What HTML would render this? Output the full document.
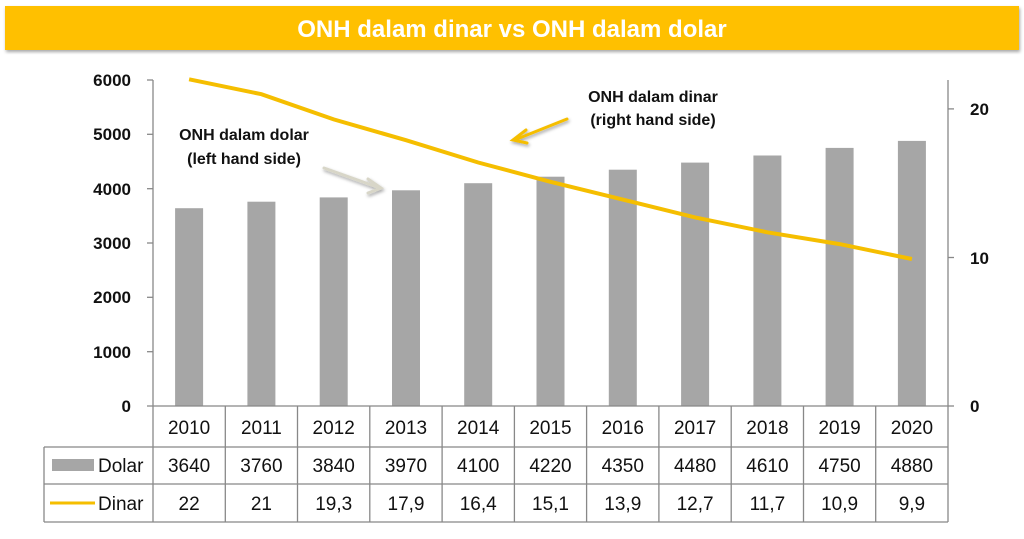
<!DOCTYPE html>
<html><head><meta charset="utf-8"><style>
body{margin:0;background:#fff;width:1024px;height:534px;overflow:hidden}
text{font-family:"Liberation Sans",sans-serif}
</style></head><body>
<svg width="1024" height="534" xmlns="http://www.w3.org/2000/svg">
<defs><filter id="sh"><feDropShadow dx="1" dy="2" stdDeviation="1.5" flood-opacity="0.35"/></filter></defs>
<rect x="5" y="6" width="1014" height="44" fill="#FFC000" filter="url(#sh)"/>
<text x="512" y="37" text-anchor="middle" fill="#fff" font-size="24" font-weight="bold">ONH dalam dinar vs ONH dalam dolar</text>
<g fill="#A6A6A6">
<rect x="175.1" y="208.2" width="28" height="197.8"/>
<rect x="247.4" y="201.7" width="28" height="204.3"/>
<rect x="319.7" y="197.4" width="28" height="208.6"/>
<rect x="392" y="190.3" width="28" height="215.7"/>
<rect x="464.2" y="183.2" width="28" height="222.8"/>
<rect x="536.5" y="176.7" width="28" height="229.3"/>
<rect x="608.8" y="169.7" width="28" height="236.3"/>
<rect x="681.1" y="162.6" width="28" height="243.4"/>
<rect x="753.4" y="155.5" width="28" height="250.5"/>
<rect x="825.6" y="147.9" width="28" height="258.1"/>
<rect x="897.9" y="140.9" width="28" height="265.1"/>
</g>
<polyline fill="none" stroke="#F5BE00" stroke-width="4" points="189.1,79.3 261.4,94.2 333.7,119.4 406,140.2 478.2,162.5 550.5,181.8 622.8,199.6 695.1,217.4 767.4,232.3 839.6,244.1 911.9,259"/>
<g stroke="#888" stroke-width="1.3" fill="none">
<line x1="153" y1="80" x2="153" y2="522"/>
<line x1="147" y1="80" x2="153" y2="80"/><line x1="147" y1="134.3" x2="153" y2="134.3"/><line x1="147" y1="188.7" x2="153" y2="188.7"/><line x1="147" y1="243" x2="153" y2="243"/><line x1="147" y1="297.3" x2="153" y2="297.3"/><line x1="147" y1="351.7" x2="153" y2="351.7"/>
<line x1="147" y1="406" x2="948" y2="406"/>
<line x1="948" y1="80" x2="948" y2="522"/>
<line x1="948" y1="108.9" x2="954" y2="108.9"/><line x1="948" y1="257.5" x2="954" y2="257.5"/><line x1="948" y1="406" x2="954" y2="406"/>
<line x1="44" y1="447" x2="948" y2="447"/>
<line x1="44" y1="484" x2="948" y2="484"/>
<line x1="44" y1="522" x2="948" y2="522"/>
<line x1="44" y1="447" x2="44" y2="522"/>
<line x1="225.3" y1="406" x2="225.3" y2="522"/><line x1="297.5" y1="406" x2="297.5" y2="522"/><line x1="369.8" y1="406" x2="369.8" y2="522"/><line x1="442.1" y1="406" x2="442.1" y2="522"/><line x1="514.4" y1="406" x2="514.4" y2="522"/><line x1="586.6" y1="406" x2="586.6" y2="522"/><line x1="658.9" y1="406" x2="658.9" y2="522"/><line x1="731.2" y1="406" x2="731.2" y2="522"/><line x1="803.5" y1="406" x2="803.5" y2="522"/><line x1="875.7" y1="406" x2="875.7" y2="522"/>
</g>
<g font-size="17" font-weight="bold" text-anchor="end" fill="#111">
<text x="131" y="86">6000</text><text x="131" y="140">5000</text><text x="131" y="195">4000</text><text x="131" y="249">3000</text><text x="131" y="303">2000</text><text x="131" y="358">1000</text><text x="131" y="412">0</text>
</g>
<g font-size="17" font-weight="bold" fill="#111"><text x="970" y="115">20</text><text x="970" y="264">10</text><text x="970" y="412">0</text></g>
<g font-size="19" text-anchor="middle" fill="#111">
<text x="189.1" y="434">2010</text><text x="261.4" y="434">2011</text><text x="333.7" y="434">2012</text><text x="406" y="434">2013</text><text x="478.2" y="434">2014</text><text x="550.5" y="434">2015</text><text x="622.8" y="434">2016</text><text x="695.1" y="434">2017</text><text x="767.4" y="434">2018</text><text x="839.6" y="434">2019</text><text x="911.9" y="434">2020</text>
<text x="189.1" y="472">3640</text><text x="261.4" y="472">3760</text><text x="333.7" y="472">3840</text><text x="406" y="472">3970</text><text x="478.2" y="472">4100</text><text x="550.5" y="472">4220</text><text x="622.8" y="472">4350</text><text x="695.1" y="472">4480</text><text x="767.4" y="472">4610</text><text x="839.6" y="472">4750</text><text x="911.9" y="472">4880</text>
<text x="189.1" y="510">22</text><text x="261.4" y="510">21</text><text x="333.7" y="510">19,3</text><text x="406" y="510">17,9</text><text x="478.2" y="510">16,4</text><text x="550.5" y="510">15,1</text><text x="622.8" y="510">13,9</text><text x="695.1" y="510">12,7</text><text x="767.4" y="510">11,7</text><text x="839.6" y="510">10,9</text><text x="911.9" y="510">9,9</text>
</g>
<rect x="52" y="459" width="42" height="12" fill="#A6A6A6"/>
<line x1="50" y1="503" x2="95" y2="503" stroke="#F5BE00" stroke-width="3"/>
<g font-size="19" fill="#111"><text x="98" y="472">Dolar</text><text x="98" y="510">Dinar</text></g>
<g font-size="16" font-weight="bold" text-anchor="middle" fill="#111">
<text x="653" y="102">ONH dalam dinar</text><text x="653" y="125">(right hand side)</text>
<text x="244" y="140">ONH dalam dolar</text><text x="244" y="164">(left hand side)</text>
</g>
<g stroke-linecap="round" filter="url(#sh)">
<line x1="567" y1="119" x2="517" y2="139" stroke="#F5BE00" stroke-width="3"/>
<polyline points="526,130 513,140 527,143" fill="none" stroke="#F5BE00" stroke-width="3"/>
<line x1="324" y1="168" x2="380" y2="188" stroke="#D8D6C8" stroke-width="3"/>
<polyline points="368,179 381,188 368,193" fill="none" stroke="#D8D6C8" stroke-width="3"/>
</g>
</svg>
</body></html>
